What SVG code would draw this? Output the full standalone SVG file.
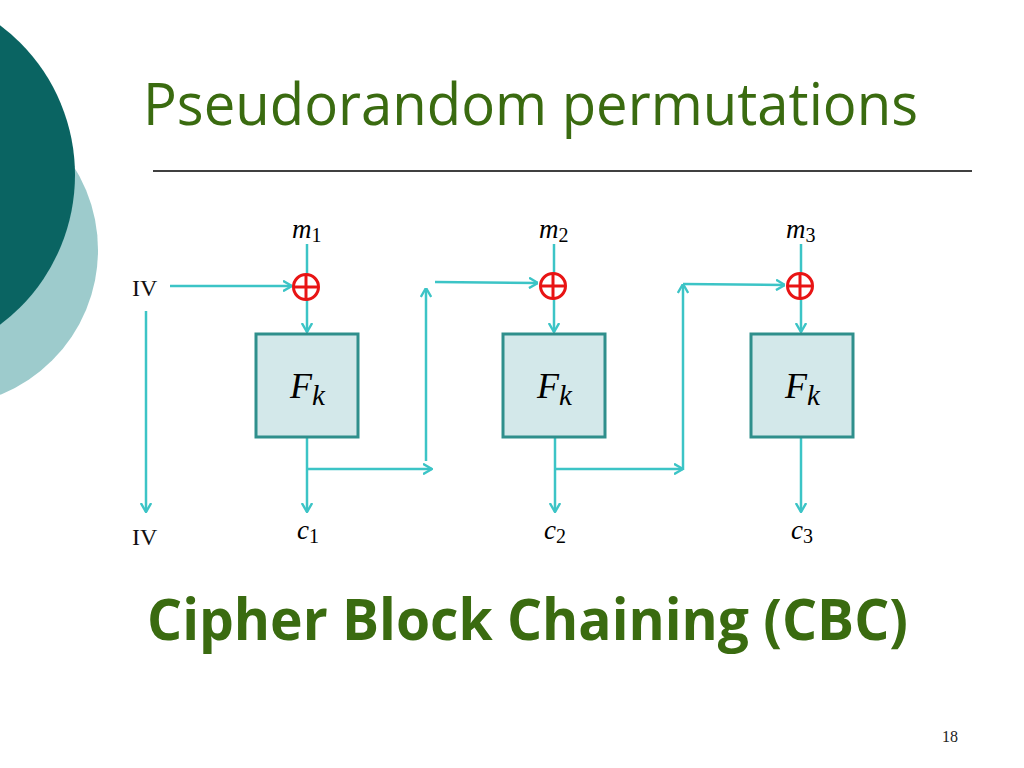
<svg xmlns="http://www.w3.org/2000/svg" width="1024" height="768" viewBox="0 0 1024 768">
<style>
.title{font-family:"Open Sans","DejaVu Sans",sans-serif;fill:#3a6b10}
.conn{stroke:#3cc4c6;stroke-width:2.5;fill:none}
.box{fill:#d3e8ea;stroke:#2f8f8c;stroke-width:3}
.xor{fill:#fff;stroke:#e81414;stroke-width:3}
.xp{stroke:#e81414;stroke-width:3}
.math{font-family:"Liberation Serif","DejaVu Serif",serif;fill:#000}
.lbl{font-family:"Liberation Serif","DejaVu Serif",serif;fill:#111;font-size:24px}
</style>
<defs>
<marker id="ah" viewBox="0 0 10 12" refX="9.5" refY="6" markerWidth="10" markerHeight="12" markerUnits="userSpaceOnUse" orient="auto">
<path d="M0.5,0.8 L9.5,6 L0.5,11.2" fill="none" stroke="#3cc4c6" stroke-width="2.4"/>
</marker>
</defs>
<rect width="1024" height="768" fill="#fff"/>
<g id="decor">
<circle cx="-58" cy="250" r="156" fill="#9dcbcc"/>
<circle cx="-112" cy="175" r="187" fill="#0a6462"/>
</g>
<text class="title" x="143" y="125" font-size="58" textLength="775" lengthAdjust="spacingAndGlyphs">Pseudorandom permutations</text>
<line x1="153" y1="171" x2="972" y2="171" stroke="#000" stroke-width="1.5"/>
<g id="connectors">
<line class="conn" x1="170" y1="286" x2="292" y2="286" marker-end="url(#ah)"/>
<line class="conn" x1="307" y1="244" x2="307" y2="332" marker-end="url(#ah)"/>
<line class="conn" x1="146" y1="311" x2="146" y2="512" marker-end="url(#ah)"/>
<line class="conn" x1="307" y1="437" x2="307" y2="512" marker-end="url(#ah)"/>
<line class="conn" x1="307" y1="469" x2="432" y2="469" marker-end="url(#ah)"/>
<line class="conn" x1="426" y1="461" x2="426" y2="288" marker-end="url(#ah)"/>
<line class="conn" x1="435" y1="282" x2="538" y2="283" marker-end="url(#ah)"/>
<line class="conn" x1="554" y1="244" x2="554" y2="332" marker-end="url(#ah)"/>
<line class="conn" x1="555" y1="437" x2="555" y2="512" marker-end="url(#ah)"/>
<line class="conn" x1="555" y1="469" x2="683" y2="469" marker-end="url(#ah)"/>
<line class="conn" x1="683" y1="470" x2="683" y2="284" marker-end="url(#ah)"/>
<line class="conn" x1="683" y1="284" x2="785" y2="285" marker-end="url(#ah)"/>
<line class="conn" x1="801" y1="244" x2="801" y2="332" marker-end="url(#ah)"/>
<line class="conn" x1="801" y1="437" x2="801" y2="512" marker-end="url(#ah)"/>
</g>
<g id="xor1"><circle class="xor" cx="306" cy="287" r="12.5"/><line class="xp" x1="293.5" y1="287" x2="318.5" y2="287"/><line class="xp" x1="306" y1="274.5" x2="306" y2="299.5"/></g>
<g id="xor2"><circle class="xor" cx="553" cy="286" r="12.5"/><line class="xp" x1="540.5" y1="286" x2="565.5" y2="286"/><line class="xp" x1="553" y1="273.5" x2="553" y2="298.5"/></g>
<g id="xor3"><circle class="xor" cx="800" cy="286" r="12.5"/><line class="xp" x1="787.5" y1="286" x2="812.5" y2="286"/><line class="xp" x1="800" y1="273.5" x2="800" y2="298.5"/></g>
<g id="box1"><rect class="box" x="256" y="334" width="102" height="103"/><text class="math" x="290" y="398" font-size="36"><tspan font-style="italic">F</tspan><tspan font-style="italic" font-size="29" dy="7">k</tspan></text></g>
<g id="box2"><rect class="box" x="503" y="334" width="102" height="103"/><text class="math" x="537" y="398" font-size="36"><tspan font-style="italic">F</tspan><tspan font-style="italic" font-size="29" dy="7">k</tspan></text></g>
<g id="box3"><rect class="box" x="751" y="334" width="102" height="103"/><text class="math" x="785" y="398" font-size="36"><tspan font-style="italic">F</tspan><tspan font-style="italic" font-size="29" dy="7">k</tspan></text></g>
<g id="labels">
<text class="math" x="292" y="238" font-size="27"><tspan font-style="italic">m</tspan><tspan font-size="20" dy="4">1</tspan></text>
<text class="math" x="539" y="238" font-size="27"><tspan font-style="italic">m</tspan><tspan font-size="20" dy="4">2</tspan></text>
<text class="math" x="786" y="238" font-size="27"><tspan font-style="italic">m</tspan><tspan font-size="20" dy="4">3</tspan></text>
<text class="math" x="297" y="539" font-size="27"><tspan font-style="italic">c</tspan><tspan font-size="20" dy="4">1</tspan></text>
<text class="math" x="544" y="539" font-size="27"><tspan font-style="italic">c</tspan><tspan font-size="20" dy="4">2</tspan></text>
<text class="math" x="791" y="539" font-size="27"><tspan font-style="italic">c</tspan><tspan font-size="20" dy="4">3</tspan></text>
<text class="lbl" x="132" y="296">IV</text>
<text class="lbl" x="132" y="545">IV</text>
</g>
<text class="title" x="147" y="640" font-size="58" font-weight="bold" textLength="761" lengthAdjust="spacingAndGlyphs">Cipher Block Chaining (CBC)</text>
<text x="942" y="742" font-family="Liberation Serif, serif" font-size="16" fill="#222">18</text>
</svg>
